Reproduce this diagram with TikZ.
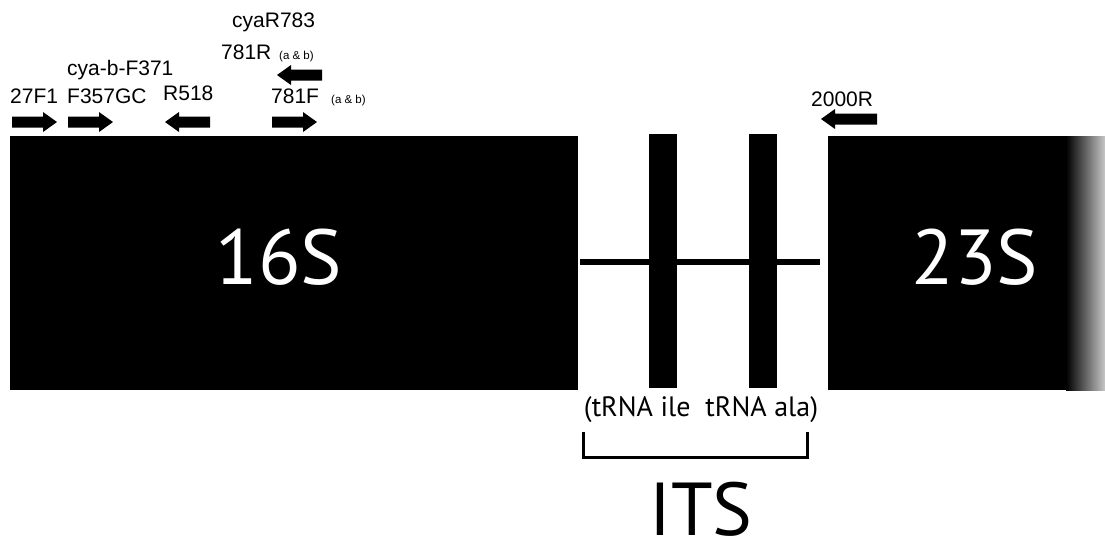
\documentclass[tikz,border=0pt]{standalone}
\usepackage{fontspec}
\setmainfont{Liberation Sans}
\newfontfamily\myriad{PT Sans}
\begin{document}
\begin{tikzpicture}[x=1pt,y=-1pt,
  primer/.style={inner sep=0pt, anchor=base west, font=\fontsize{21}{21}\selectfont},
  small/.style={inner sep=0pt, anchor=base west, font=\fontsize{11.5}{12}\selectfont},
  big/.style={inner sep=0pt, text=white, font=\myriad\fontsize{78}{78}\selectfont},
  pics/farrow/.style={code={\fill[black] (0,-5.5) -- (#1-14,-5.5) -- (#1-14,-10) -- (#1,0) -- (#1-14,10) -- (#1-14,5.5) -- (0,5.5) -- cycle;}},
  pics/rarrow/.style={code={\fill[black] (0,-5.5) -- (-#1+14,-5.5) -- (-#1+14,-10) -- (-#1,0) -- (-#1+14,10) -- (-#1+14,5.5) -- (0,5.5) -- cycle;}}
]
\useasboundingbox (0,0) rectangle (1105,550);
% 16S block
\fill[black] (10,136) rectangle (578,390);
\node[big] (l16) at (279,257) {16S};
% 23S block
\fill[black] (828,136) rectangle (1067,390);
\shade[left color=black, right color=black!22] (1066,136) rectangle (1105,390);
\node[big] (l23) at (975,257) {23S};
% ITS
\draw[line width=5.5pt] (580,262) -- (820,262);
\fill[black] (649,134) rectangle (677,388);
\fill[black] (749,134) rectangle (777,388);
\node[inner sep=0pt, font=\myriad\fontsize{28}{28}\selectfont] (trna) at (701,410) {(tRNA ile\ \ tRNA ala)};
\coordinate (bl) at (583,432);
\coordinate (br) at (807,432);
\draw[line width=3pt, line cap=butt] (bl) -- ++(0,25) -| (br);
\node[inner sep=0pt, anchor=base, text depth=0pt, font=\myriad\fontsize{75}{75}\selectfont] (its) at (701,535) {ITS};
% primer labels
\node[primer] (p27) at (10,103) {27F1};
\node[primer] (p357) at (67,103) {F357GC};
\node[primer] (p371) at (67,75) {cya-b-F371};
\node[primer] (p518) at (163,100) {R518};
\node[primer] (p781f) at (271,103) {781F};
\node[small] (p781fs) at (331,103) {(a \& b)};
\node[primer] (p781r) at (221,59) {781R};
\node[small] (p781rs) at (279,59) {(a \& b)};
\node[primer] (p783) at (232,27) {cyaR783};
\node[primer] (p2000) at (811,106) {2000R};
% primer arrows
\pic at (12,122) {farrow=45};
\pic at (68,122) {farrow=45};
\pic at (210,122) {rarrow=45};
\pic at (272,122) {farrow=45};
\pic at (322,75) {rarrow=45};
\pic at (877,119) {rarrow=56};
\end{tikzpicture}
\end{document}
